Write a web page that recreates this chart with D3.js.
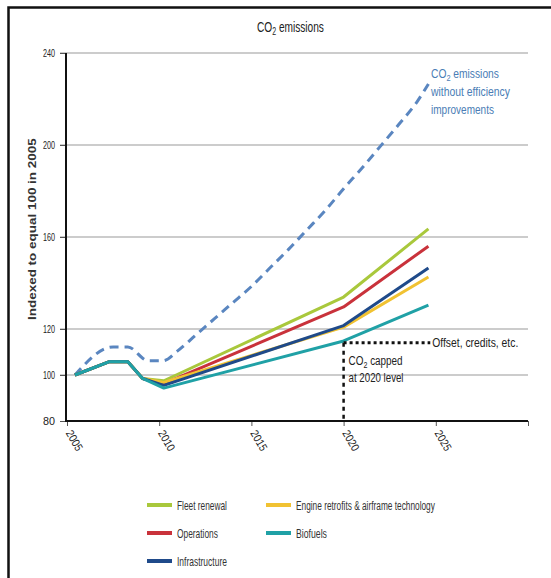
<!DOCTYPE html>
<html>
<head>
<meta charset="utf-8">
<script src="https://cdn.jsdelivr.net/npm/d3@7"></script>
<style>
  body { margin: 0; background: #fff; }
  svg { display: block; font-family: "Liberation Sans", Arial, sans-serif; }
</style>
</head>
<body>
<div id="chart"></div>
<script>
// years (lines start half a year after 2005)
const yTicks = [80, 100, 120, 160, 200, 240];
const xTicks = [2005, 2010, 2015, 2020, 2025, 2030];
const xTickLabels = ["2005", "2010", "2015", "2020", "2025", ""];

// shared start, before the scenarios split
const baseYears  = [2005.43, 2007.3, 2008.3, 2009.1];
const baseValues = [100, 105.8, 105.8, 98.5];

const splitYears = [2010.25, 2020, 2024.6];
const fleetRenewal   = [97.5, 133.9, 163.5];
const operations     = [96.2, 129.6, 156.0];
const infrastructure = [95.5, 121.5, 146.5];
const engineRetrofit = [96.8, 120.8, 142.6];
const biofuels       = [94.3, 114.8, 130.4];

// no-efficiency reference (dashed)
const baselineYears  = [2005.43, 2007.5, 2008.3, 2009.4, 2010.2, 2011, 2012, 2013, 2014, 2015, 2016, 2017, 2018, 2019, 2020, 2021, 2022, 2023, 2024, 2024.6];
const baselineValues = [100, 112.2, 112.2, 106.2, 106.2, 110.5, 117.5, 124.5, 131.5, 138.5, 146.5, 154.5, 163, 171.5, 181, 190, 199.5, 209, 219, 226.5];

const capValue = 114;
const capYear = 2020;
const capEndYear = 2024.7;

const series = [
  { name: "Fleet renewal", values: fleetRenewal, color: "#a9c83c", w: 50 },
  { name: "Operations", values: operations, color: "#c9323b", w: 41 },
  { name: "Engine retrofits & airframe technology", values: engineRetrofit, color: "#f1c232", w: 139 },
  { name: "Infrastructure", values: infrastructure, color: "#1f4a8a", w: 50 },
  { name: "Biofuels", values: biofuels, color: "#20a1a6", w: 31 }
];
const legendItems = [
  { name: "Fleet renewal", col: 0, row: 0 },
  { name: "Operations", col: 0, row: 1 },
  { name: "Infrastructure", col: 0, row: 2 },
  { name: "Engine retrofits & airframe technology", col: 1, row: 0 },
  { name: "Biofuels", col: 1, row: 1 }
];

const W = 551, H = 578;
const svg = d3.select("#chart").append("svg").attr("width", W).attr("height", H);

// the source uses a condensed face: squeeze each text horizontally to its measured width
function squeeze(sel, w, pre) {
  sel.each(function() {
    const n = this.getComputedTextLength();
    d3.select(this).attr("transform", `${pre || ""} scale(${w / n},1)`);
  });
  return sel;
}
function co2(sel, rest, sub) {
  sel.append("tspan").text("CO");
  sel.append("tspan").text("2").attr("dy", 3).style("font-size", sub);
  sel.append("tspan").text(rest).attr("dy", -3);
  return sel;
}
function label(px, py, size, color) {
  return svg.append("text").attr("x", 0).attr("y", 0)
    .style("font-size", size).attr("fill", color)
    .attr("data-x", px).attr("data-y", py);
}
function place(sel, w) {
  return squeeze(sel, w, `translate(${sel.attr("data-x")},${sel.attr("data-y")})`);
}

// frame
svg.append("path").attr("d", `M8.5,${H} V7.5 H${W}`)
  .attr("fill", "none").attr("stroke", "#111").attr("stroke-width", 2.5);

const x = d3.scaleLinear().domain([2005, 2030]).range([67, 528]);
const y = d3.scaleLinear().domain([80, 240]).range([421, 53]);

// title
place(co2(label(257, 32, "14.5px", "#222"), " emissions", "10px"), 67);

// grid
svg.append("g").selectAll("line").data(yTicks.filter(d => d > 80)).join("line")
  .attr("x1", 60).attr("x2", 528)
  .attr("y1", d => y(d)).attr("y2", d => y(d))
  .attr("stroke", "#9a9a9a").attr("stroke-width", 1.2);

// y axis
const yAxis = svg.append("g").attr("transform", "translate(66,0)")
  .call(d3.axisLeft(y).tickValues(yTicks).tickSize(6).tickPadding(4));
yAxis.select(".domain").remove();
yAxis.selectAll(".tick line").attr("stroke", "#555");
squeeze(yAxis.selectAll(".tick text").style("font-size", "11.5px").attr("fill", "#222")
  .style("font-family", "'Liberation Sans', Arial, sans-serif")
  .attr("x", 0), 12, "translate(-11,0)");
svg.append("line").attr("x1", 66).attr("x2", 66).attr("y1", 53).attr("y2", 422)
  .attr("stroke", "#111").attr("stroke-width", 2);

// x axis
const xAxis = svg.append("g").attr("transform", "translate(0,421)")
  .call(d3.axisBottom(x).tickValues(xTicks).tickFormat((d, i) => xTickLabels[i]).tickSize(5));
xAxis.select(".domain").remove();
xAxis.selectAll(".tick line").attr("stroke", "#555");
squeeze(xAxis.selectAll(".tick text")
  .style("font-size", "11.5px").attr("fill", "#222")
  .style("font-family", "'Liberation Sans', Arial, sans-serif")
  .attr("text-anchor", "start")
  .attr("dy", null).attr("y", 0), 22, "translate(-2,12) rotate(60)");
svg.append("line").attr("x1", 65).attr("x2", 528).attr("y1", 421).attr("y2", 421)
  .attr("stroke", "#111").attr("stroke-width", 2.2);

squeeze(svg.append("text").attr("x", 0).attr("y", 0)
  .style("font-size", "10.5px").style("font-weight", "bold")
  .attr("fill", "#333")
  .text("Indexed to equal 100 in 2005"), 182, "translate(36,320) rotate(-90)");

const line = d3.line().x(d => x(d[0])).y(d => y(d[1]));
const lineSmooth = d3.line().x(d => x(d[0])).y(d => y(d[1])).curve(d3.curveMonotoneX);

// dashed reference
svg.append("path")
  .datum(baselineYears.map((yr, i) => [yr, baselineValues[i]]))
  .attr("d", lineSmooth)
  .attr("fill", "none").attr("stroke", "#5a86c0").attr("stroke-width", 3)
  .attr("stroke-dasharray", "9,6");

// scenario lines
series.forEach(s => {
  const pts = baseYears.map((yr, i) => [yr, baseValues[i]])
    .concat(splitYears.map((yr, i) => [yr, s.values[i]]));
  svg.append("path").datum(pts).attr("d", line)
    .attr("fill", "none").attr("stroke", s.color).attr("stroke-width", 3)
    .attr("stroke-linejoin", "round");
});

// cap annotation
svg.append("line")
  .attr("x1", x(capYear)).attr("x2", x(capEndYear))
  .attr("y1", y(capValue)).attr("y2", y(capValue))
  .attr("stroke", "#111").attr("stroke-width", 3).attr("stroke-dasharray", "3,3");
svg.append("line")
  .attr("x1", x(capYear)).attr("x2", x(capYear))
  .attr("y1", y(capValue)).attr("y2", y(80))
  .attr("stroke", "#111").attr("stroke-width", 2.5).attr("stroke-dasharray", "4,4");

place(label(x(capEndYear) + 2, y(capValue) + 4, "12.5px", "#222").text("Offset, credits, etc."), 86);
place(co2(label(x(capYear) + 5, y(capValue) + 22, "12.5px", "#222"), " capped", "9px"), 54);
place(label(x(capYear) + 5, y(capValue) + 39, "12.5px", "#222").text("at 2020 level"), 55);

// dashed line label
place(co2(label(431, 78, "12.5px", "#4a7db5"), " emissions", "9px"), 68);
place(label(431, 96, "12.5px", "#4a7db5").text("without efficiency"), 79);
place(label(431, 114, "12.5px", "#4a7db5").text("improvements"), 63);

// legend
const colX = [147, 266], rowY = [505, 533, 561];
const leg = svg.append("g").selectAll("g").data(legendItems).join("g")
  .attr("transform", d => `translate(${colX[d.col]},${rowY[d.row]})`);
leg.append("line").attr("x1", 0).attr("x2", 25).attr("y1", 0).attr("y2", 0)
  .attr("stroke", d => series.find(s => s.name === d.name).color).attr("stroke-width", 4);
leg.each(function(d) {
  const s = series.find(t => t.name === d.name);
  squeeze(d3.select(this).append("text").attr("x", 0).attr("y", 0).style("font-size", "12px")
    .attr("fill", "#333").text(d.name), s.w, "translate(30,4.5)");
});
</script>
</body>
</html>
